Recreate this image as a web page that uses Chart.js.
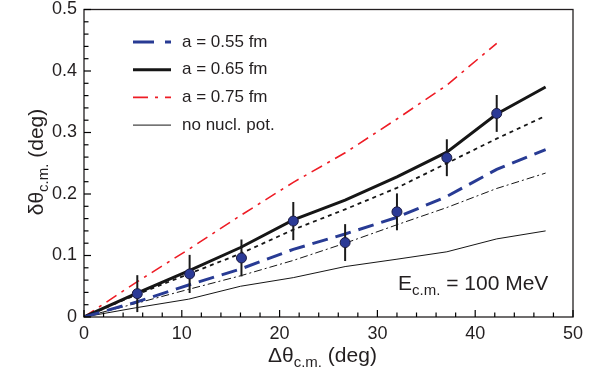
<!DOCTYPE html>
<html>
<head>
<meta charset="utf-8">
<script src="https://cdn.jsdelivr.net/npm/chart.js@4.4.1/dist/chart.umd.min.js"></script>
<style>
  html, body { margin: 0; padding: 0; background: #fff; }
  #wrap { width: 605px; height: 377px; }
</style>
</head>
<body>
<div id="wrap"><canvas id="c" width="605" height="377"></canvas></div>
<script>
// curve abscissae (deg)
const curveX = [0, 5.3, 10.7, 16, 21.4, 26.7, 32, 37.1, 42.2, 47.2];
const a055 = [0, 0.024, 0.052, 0.078, 0.110, 0.135, 0.162, 0.196, 0.240, 0.272];
const a065 = [0, 0.038, 0.075, 0.113, 0.158, 0.190, 0.228, 0.268, 0.330, 0.374];
const a075 = [0, 0.056, 0.110, 0.165, 0.219, 0.267, 0.322, 0.377, 0.445];
const noNucl = [0, 0.015, 0.029, 0.050, 0.064, 0.082, 0.094, 0.106, 0.127, 0.140];
const dotted = [0, 0.036, 0.070, 0.103, 0.142, 0.175, 0.210, 0.250, 0.290, 0.327];
const dashDot = [0, 0.022, 0.045, 0.067, 0.092, 0.120, 0.150, 0.178, 0.209, 0.234];

// measured points
const dataX = [5.45, 10.8, 16.1, 21.4, 26.7, 32.0, 37.1, 42.2];
const dataY = [0.038, 0.070, 0.096, 0.156, 0.121, 0.171, 0.259, 0.331];
const dataErr = [0.030, 0.031, 0.030, 0.031, 0.030, 0.030, 0.030, 0.030];

const xTicks = [0, 10, 20, 30, 40, 50];
const yTicks = [0, 0.1, 0.2, 0.3, 0.4, 0.5];

const FONT = '"Liberation Sans", Arial, Helvetica, sans-serif';
const INK = '#231f20';
const BLUE = '#283b94';
const RED = '#ee1c25';

function pts(xs, ys) {
  return ys.map((y, i) => ({ x: xs[i], y: y }));
}

function curve(label, ys, color, width, dash, legendDash) {
  return {
    label: label,
    data: pts(curveX, ys),
    borderColor: color,
    borderWidth: width,
    borderDash: dash,
    pointRadius: 0,
    fill: false,
    tension: 0,
    legendDash: legendDash
  };
}

const datasets = [
  {
    label: 'data',
    data: pts(dataX, dataY),
    showLine: false,
    pointRadius: 5,
    pointBackgroundColor: '#2b3a96',
    pointBorderColor: '#1a1a40',
    pointBorderWidth: 1
  },
  curve('a = 0.55 fm', a055, BLUE, 3, [16, 8], [21, 11]),
  curve('a = 0.65 fm', a065, '#161616', 3, [], []),
  curve('a = 0.75 fm', a075, RED, 1.6, [12, 6, 3, 6], [15, 7, 3, 7]),
  curve('no nucl. pot.', noNucl, '#161616', 1, [], []),
  curve('', dotted, '#161616', 1.8, [4, 4], null),
  curve('', dashDot, '#161616', 1, [8, 3, 2, 3], null)
];

// text with subscript: parts = [text, size, dy]
function richText(ctx, x, y, parts) {
  let cx = x;
  parts.forEach(p => {
    ctx.font = p[1] + 'px ' + FONT;
    ctx.fillText(p[0], cx, y + p[2]);
    cx += ctx.measureText(p[0]).width;
  });
  return cx - x;
}
function richWidth(ctx, parts) {
  let w = 0;
  parts.forEach(p => {
    ctx.font = p[1] + 'px ' + FONT;
    w += ctx.measureText(p[0]).width;
  });
  return w;
}

const decor = {
  id: 'decor',
  beforeDatasetDraw(chart, args) {
    if (args.index !== 0) return;
    const ctx = chart.ctx;
    const xs = chart.scales.x, ys = chart.scales.y;
    ctx.save();
    ctx.strokeStyle = '#1a1a1a';
    ctx.lineWidth = 2;
    dataX.forEach((x, i) => {
      const px = xs.getPixelForValue(x);
      ctx.beginPath();
      ctx.moveTo(px, ys.getPixelForValue(dataY[i] - dataErr[i]));
      ctx.lineTo(px, ys.getPixelForValue(dataY[i] + dataErr[i]));
      ctx.stroke();
    });
    ctx.restore();
  },
  afterDraw(chart) {
    const ctx = chart.ctx;
    const a = chart.chartArea;
    const xs = chart.scales.x, ys = chart.scales.y;
    ctx.save();
    ctx.setLineDash([]);

    // frame
    ctx.strokeStyle = INK;
    ctx.lineWidth = 1.3;
    ctx.strokeRect(a.left, a.top, a.right - a.left, a.bottom - a.top);

    // inward ticks
    ctx.strokeStyle = '#000';
    ctx.lineWidth = 1.2;
    for (let v = 0; v <= 50; v += 2) {
      const px = xs.getPixelForValue(v);
      const len = v % 10 === 0 ? 7 : 4.5;
      ctx.beginPath();
      ctx.moveTo(px, a.bottom);
      ctx.lineTo(px, a.bottom - len);
      ctx.stroke();
    }
    for (let k = 0; k <= 25; k++) {
      const py = ys.getPixelForValue(k * 0.02);
      const len = k % 5 === 0 ? 7 : 4.5;
      ctx.beginPath();
      ctx.moveTo(a.left, py);
      ctx.lineTo(a.left + len, py);
      ctx.stroke();
    }

    // legend
    const items = chart.data.datasets.filter(d => d.label && d.label !== 'data');
    items.forEach((d, i) => {
      const y = 42 + i * 27.7;
      ctx.strokeStyle = d.borderColor;
      ctx.lineWidth = d.borderWidth;
      ctx.setLineDash(d.legendDash || []);
      ctx.beginPath();
      ctx.moveTo(133, y);
      ctx.lineTo(171, y);
      ctx.stroke();
      ctx.setLineDash([]);
      ctx.fillStyle = INK;
      ctx.font = '17px ' + FONT;
      ctx.textBaseline = 'middle';
      ctx.textAlign = 'left';
      ctx.fillText(d.label, 182, y);
    });

    ctx.fillStyle = INK;
    ctx.textBaseline = 'alphabetic';
    ctx.textAlign = 'left';

    // energy label
    richText(ctx, 398, 289.5, [['E', 21, 0], ['c.m.', 15, 5], [' = 100 MeV', 21, 0]]);

    // x title
    const xt = [['\u0394\u03b8', 21, 0], ['c.m.', 15, 5], [' (deg)', 21, 0]];
    richText(ctx, 268, 362, xt);

    // y title
    const yt = [['\u03b4\u03b8', 21, 0], ['c.m.', 15, 5], [' (deg)', 21, 0]];
    const w = richWidth(ctx, yt);
    ctx.translate(43, 162 + w / 2);
    ctx.rotate(-Math.PI / 2);
    richText(ctx, 0, 0, yt);

    ctx.restore();
  }
};

new Chart(document.getElementById('c'), {
  type: 'line',
  data: { datasets: datasets },
  options: {
    responsive: false,
    devicePixelRatio: 1,
    animation: false,
    layout: { padding: { top: 9.5, right: 32, left: 0, bottom: 0 } },
    plugins: { legend: { display: false }, tooltip: { enabled: false } },
    scales: {
      x: {
        type: 'linear',
        min: 0, max: 50,
        afterBuildTicks: s => { s.ticks = xTicks.map(v => ({ value: v })); },
        afterFit: s => { s.height = 60; s.paddingLeft = 0; s.paddingRight = 0; },
        grid: { display: false, drawTicks: false },
        border: { display: false },
        ticks: { color: INK, font: { family: FONT, size: 18 }, padding: 6 }
      },
      y: {
        type: 'linear',
        min: 0, max: 0.5,
        afterBuildTicks: s => { s.ticks = yTicks.map(v => ({ value: v })); },
        afterFit: s => { s.width = 84; s.paddingTop = 0; s.paddingBottom = 0; },
        grid: { display: false, drawTicks: false },
        border: { display: false },
        ticks: { color: INK, font: { family: FONT, size: 18 }, padding: 7,
          callback: v => String(Math.round(v * 10) / 10) }
      }
    }
  },
  plugins: [decor]
});
</script>
</body>
</html>
